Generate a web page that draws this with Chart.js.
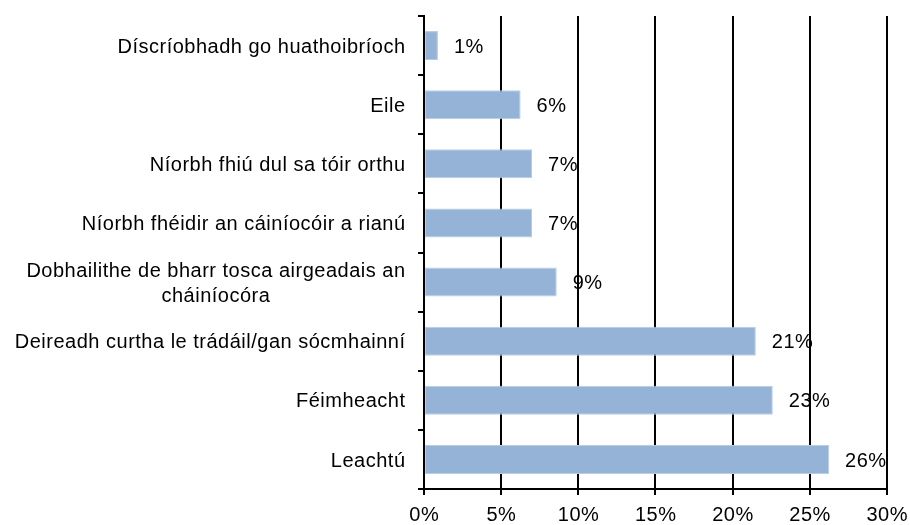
<!DOCTYPE html>
<html>
<head>
<meta charset="utf-8">
<script src="https://cdn.jsdelivr.net/npm/chart.js@4"></script>
<style>
html,body{margin:0;padding:0;background:#fff;}
canvas{display:block;}
</style>
</head>
<body>
<canvas id="c" width="910" height="525"></canvas>
<script>
const categories = [
  ['Díscríobhadh go huathoibríoch'],
  ['Eile'],
  ['Níorbh fhiú dul sa tóir orthu'],
  ['Níorbh fhéidir an cáiníocóir a rianú'],
  ['Dobhailithe de bharr tosca airgeadais an', 'cháiníocóra'],
  ['Deireadh curtha le trádáil/gan sócmhainní'],
  ['Féimheacht'],
  ['Leachtú']
];
const values = [0.9, 6.26, 7.0, 7.0, 8.6, 21.5, 22.6, 26.25];
const valueLabels = ['1%', '6%', '7%', '7%', '9%', '21%', '23%', '26%'];
const xTickValues = [0, 5, 10, 15, 20, 25, 30];
const xTickLabels = ['0%', '5%', '10%', '15%', '20%', '25%', '30%'];

const FONT_SIZE = 20;
const FONT = FONT_SIZE + 'px "Liberation Sans", Arial, sans-serif';
const LS = 0.5;

function drawText(ctx, text, x, y, align) {
  ctx.save();
  const w = ctx.measureText(text).width;
  let left = x;
  if (align === 'center') left = x - w / 2;
  else if (align === 'right') left = x - w;
  ctx.textAlign = 'left';
  ctx.textBaseline = 'alphabetic';
  ctx.fillText(text, left, y);
  ctx.restore();
}

const textPlugin = {
  id: 'textPlugin',
  afterDraw(chart) {
    const ctx = chart.ctx;
    const xs = chart.scales.x, ys = chart.scales.y;
    const area = chart.chartArea;
    const capHalf = FONT_SIZE * 0.716 / 2;
    ctx.save();
    ctx.font = FONT;
    if ('letterSpacing' in ctx) ctx.letterSpacing = LS + 'px';
    ctx.fillStyle = '#000';
    const mw = t => ctx.measureText(t).width - (('letterSpacing' in ctx) ? LS : 0);
    // x tick labels
    xTickValues.forEach((v, i) => {
      const t = xTickLabels[i];
      ctx.textAlign = 'left'; ctx.textBaseline = 'alphabetic';
      ctx.fillText(t, xs.getPixelForValue(v) - mw(t) / 2, area.bottom + 32);
    });
    // y category labels
    const right = area.left - 19;
    const lh = 25;
    categories.forEach((lines, i) => {
      const cy = ys.getPixelForValue(i);
      let maxW = 0;
      lines.forEach(l => { maxW = Math.max(maxW, mw(l)); });
      const cx = right - maxW / 2;
      const first = cy - (lines.length - 1) * lh / 2 + capHalf;
      lines.forEach((l, j) => {
        ctx.textAlign = 'left'; ctx.textBaseline = 'alphabetic';
        ctx.fillText(l, cx - mw(l) / 2, first + j * lh);
      });
    });
    // data labels
    values.forEach((v, i) => {
      const cy = ys.getPixelForValue(i);
      ctx.textAlign = 'left'; ctx.textBaseline = 'alphabetic';
      ctx.fillText(valueLabels[i], xs.getPixelForValue(v) + 16, cy + capHalf);
    });
    ctx.restore();
  }
};

new Chart(document.getElementById('c'), {
  type: 'bar',
  data: {
    labels: categories,
    datasets: [{
      data: values,
      backgroundColor: '#95B3D7',
      borderColor: '#B9CDE5',
      borderWidth: 1,
      borderSkipped: false,
      categoryPercentage: 1,
      barPercentage: 0.49
    }]
  },
  options: {
    indexAxis: 'y',
    responsive: false,
    animation: false,
    devicePixelRatio: 1,
    layout: { padding: { top: 16, right: 23, bottom: 0, left: 0 } },
    plugins: { legend: { display: false }, tooltip: { enabled: false }, title: { display: false } },
    scales: {
      x: {
        type: 'linear',
        min: 0, max: 30,
        afterFit(s) { s.height = 36; },
        afterBuildTicks(s) { s.ticks = xTickValues.map(v => ({ value: v })); },
        ticks: { stepSize: 5, color: 'rgba(0,0,0,0)', font: { size: FONT_SIZE }, callback: v => v + '%' },
        grid: { color: '#000', lineWidth: 2, drawTicks: true, tickLength: 6, tickColor: '#000' },
        border: { display: true, color: '#000', width: 2 }
      },
      y: {
        type: 'category',
        offset: true,
        afterFit(s) { s.width = 424; },
        ticks: { color: 'rgba(0,0,0,0)', font: { size: FONT_SIZE } },
        grid: { drawOnChartArea: false, drawTicks: true, tickLength: 6, color: '#000', tickColor: '#000', lineWidth: 2, offset: true },
        border: { display: true, color: '#000', width: 2 }
      }
    }
  },
  plugins: [textPlugin]
});
</script>
</body>
</html>
